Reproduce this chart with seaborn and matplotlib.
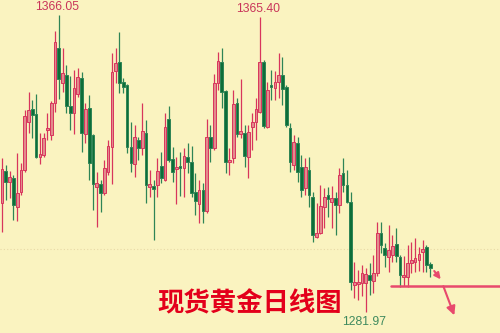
import numpy as np
import pandas as pd
import matplotlib
matplotlib.use("Agg")
import matplotlib.pyplot as plt
import seaborn as sns

# ---- data (daily OHLC of spot gold) ----
opens = [1312.8, 1321.9, 1318.8, 1319.9, 1311.7, 1316.0, 1322.2, 1335.8, 1339.5, 1338.0,
         1325.9, 1326.4, 1333.5, 1332.1, 1341.2, 1356.7, 1346.8, 1349.1, 1340.3, 1338.3,
         1343.7, 1348.2, 1332.4, 1339.7, 1332.1, 1317.4, 1318.2, 1315.7, 1321.6, 1328.7,
         1350.2, 1352.8, 1347.1, 1346.2, 1328.7, 1323.9, 1330.7, 1328.4, 1332.7, 1317.4,
         1317.7, 1317.9, 1323.3, 1319.4, 1336.6, 1325.3, 1322.5, 1323.0, 1322.8, 1325.9,
         1324.5, 1316.0, 1312.6, 1316.5, 1310.6, 1331.5, 1328.4, 1346.8, 1352.8, 1344.5,
         1324.5, 1325.6, 1341.2, 1332.4, 1332.7, 1325.9, 1334.4, 1335.8, 1338.6, 1352.8,
         1334.4, 1346.2, 1345.4, 1347.1, 1349.1, 1345.7, 1334.1, 1323.6, 1329.8, 1323.0,
         1317.1, 1322.2, 1314.5, 1303.2, 1304.4, 1311.7, 1315.1, 1313.1, 1314.3, 1312.3,
         1321.3, 1317.9, 1313.1, 1289.6, 1289.9, 1290.2, 1290.2, 1292.5, 1290.8, 1293.0,
         1304.4, 1300.1, 1297.6, 1298.1, 1301.2, 1297.6, 1291.9, 1291.9, 1295.9, 1296.2,
         1296.7, 1299.0, 1300.4, 1295.6]
highs = [1325.6, 1323.6, 1321.9, 1320.8, 1327.0, 1324.2, 1339.2, 1344.3, 1342.0, 1343.7,
         1332.7, 1332.7, 1338.3, 1341.7, 1361.5, 1366.05, 1356.7, 1351.9, 1348.8, 1350.5,
         1351.1, 1349.9, 1341.2, 1343.4, 1332.4, 1321.6, 1319.4, 1325.0, 1330.7, 1355.3,
         1356.7, 1361.2, 1348.2, 1346.5, 1335.8, 1334.9, 1331.5, 1341.2, 1336.3, 1322.2,
         1319.4, 1325.6, 1327.3, 1338.3, 1340.3, 1328.7, 1325.9, 1327.3, 1328.4, 1329.8,
         1329.0, 1321.3, 1319.4, 1318.5, 1336.6, 1334.9, 1349.4, 1355.6, 1356.7, 1344.8,
         1328.4, 1344.8, 1342.6, 1347.9, 1334.9, 1334.9, 1338.3, 1342.6, 1365.40, 1353.3,
         1347.1, 1350.5, 1350.2, 1355.3, 1354.2, 1346.2, 1335.5, 1332.1, 1331.5, 1326.4,
         1325.6, 1325.9, 1316.0, 1312.8, 1317.9, 1317.1, 1317.4, 1317.7, 1316.0, 1322.8,
         1325.6, 1322.2, 1316.0, 1296.2, 1293.9, 1295.3, 1294.5, 1295.9, 1298.1, 1307.5,
         1307.5, 1301.5, 1306.6, 1303.8, 1305.8, 1298.1, 1297.9, 1301.0, 1301.8, 1302.9,
         1300.4, 1302.4, 1301.0, 1296.2]
lows = [1304.6, 1313.7, 1314.3, 1308.0, 1307.8, 1315.1, 1321.6, 1332.7, 1331.2, 1325.6,
        1323.9, 1325.9, 1330.7, 1330.7, 1338.6, 1342.3, 1344.3, 1338.3, 1333.5, 1332.4,
        1342.8, 1327.3, 1329.8, 1319.4, 1310.9, 1306.1, 1310.3, 1315.1, 1320.8, 1318.2,
        1346.8, 1344.0, 1344.0, 1327.0, 1321.6, 1320.2, 1325.0, 1326.4, 1312.8, 1314.5,
        1302.4, 1314.5, 1318.5, 1319.1, 1324.5, 1318.8, 1312.6, 1314.8, 1314.5, 1321.3,
        1314.5, 1309.5, 1307.2, 1307.2, 1310.0, 1324.5, 1327.8, 1344.8, 1339.7, 1321.3,
        1320.8, 1324.2, 1331.5, 1331.2, 1323.0, 1319.9, 1327.8, 1330.7, 1338.3, 1334.1,
        1334.1, 1342.0, 1342.0, 1342.6, 1340.6, 1334.4, 1321.6, 1322.2, 1318.8, 1314.5,
        1315.1, 1311.7, 1301.8, 1302.9, 1304.1, 1305.8, 1308.9, 1305.8, 1303.8, 1310.0,
        1316.0, 1312.8, 1288.2, 1286.0, 1285.4, 1286.5, 1281.97, 1286.8, 1287.4, 1292.2,
        1298.7, 1294.7, 1293.3, 1296.2, 1296.2, 1289.1, 1289.4, 1289.1, 1293.0, 1293.3,
        1293.6, 1293.3, 1293.3, 1291.9]
closes = [1322.5, 1318.8, 1320.2, 1312.3, 1315.7, 1322.2, 1337.5, 1339.2, 1337.8, 1325.9,
          1326.7, 1331.2, 1334.1, 1341.2, 1358.4, 1347.9, 1349.6, 1340.3, 1338.3, 1345.4,
          1348.5, 1332.7, 1339.5, 1324.2, 1318.2, 1318.5, 1315.7, 1322.8, 1329.0, 1349.9,
          1352.5, 1346.8, 1345.7, 1328.7, 1324.2, 1331.5, 1328.4, 1333.2, 1317.9, 1318.2,
          1316.8, 1321.9, 1319.9, 1334.4, 1325.0, 1321.6, 1323.0, 1322.8, 1326.2, 1324.5,
          1315.7, 1313.4, 1316.5, 1310.6, 1331.5, 1328.4, 1346.8, 1353.0, 1344.3, 1324.5,
          1325.0, 1340.9, 1332.4, 1333.2, 1326.2, 1332.9, 1335.8, 1339.5, 1352.8, 1334.6,
          1344.8, 1345.7, 1347.1, 1349.1, 1345.1, 1334.9, 1324.5, 1330.1, 1321.6, 1316.5,
          1323.0, 1315.1, 1303.8, 1304.4, 1312.0, 1314.5, 1314.0, 1314.3, 1312.3, 1320.8,
          1317.9, 1313.1, 1290.5, 1290.5, 1290.5, 1293.0, 1292.8, 1291.1, 1293.0, 1304.4,
          1301.0, 1298.1, 1299.5, 1300.7, 1297.9, 1292.5, 1292.5, 1295.9, 1296.7, 1297.3,
          1298.4, 1299.8, 1295.3, 1294.5]

high_label = "1366.05"
high2_label = "1365.40"
low_label = "1281.97"
title_text = "现货黄金日线图"
support_level = 1289.4
support_start = 102.6
ref_level = 1299.8

df = pd.DataFrame({"open": opens, "high": highs, "low": lows, "close": closes})
df["idx"] = np.arange(len(df))
df["up"] = df["close"] >= df["open"]

# ---- style ----
sns.set_style("white")
plt.rcParams["font.family"] = ["Noto Sans CJK SC", "DejaVu Sans"]
BG = "#FAF3C0"
UP_FILL = "#E38B8C"
UP_EDGE = "#D8355C"
DN_FILL = "#0D6E38"
DN_EDGE = "#2E8456"
LINE_RED = "#E8496D"

fig = plt.figure(figsize=(5.0, 3.33), dpi=100, facecolor=BG)
ax = fig.add_axes([0, 0, 1, 1])
ax.set_facecolor(BG)

# reference dotted line
ax.axhline(ref_level, color="#E8D9A6", lw=0.8, ls=(0, (1, 2)), zorder=1)

# wicks
wick_cols = np.where(df["up"], UP_EDGE, DN_EDGE)
ax.vlines(df["idx"], df["low"], df["high"], colors=wick_cols, lw=0.9, zorder=2)

# bodies
bottoms = np.minimum(df["open"], df["close"])
heights = np.maximum(np.abs(df["close"] - df["open"]), 0.55)
face = np.where(df["up"], UP_FILL, DN_FILL)
edge = np.where(df["up"], UP_EDGE, DN_EDGE)
ax.bar(df["idx"], heights, bottom=bottoms, width=0.72, color=face,
       edgecolor=edge, linewidth=0.7, zorder=3)

# support line (seaborn)
sup = pd.DataFrame({"x": [support_start, 140], "y": [support_level, support_level]})
sns.lineplot(data=sup, x="x", y="y", color=LINE_RED, lw=1.8, ax=ax, zorder=4)

# arrows
ax.annotate("", xy=(116.2, 1290.6), xytext=(113.6, 1294.2),
            arrowprops=dict(arrowstyle="-|>", color=LINE_RED, lw=1.5,
                            mutation_scale=9), zorder=5)
ax.annotate("", xy=(119.6, 1280.3), xytext=(116.2, 1290.0),
            arrowprops=dict(arrowstyle="-|>", color=LINE_RED, lw=1.5,
                            mutation_scale=13), zorder=5)

ax.set_xlim(-0.53, 131.4)
ax.set_ylim(1276.03, 1370.30)
ax.set_xticks([])
ax.set_yticks([])
ax.set_xlabel("")
ax.set_ylabel("")
for s in ax.spines.values():
    s.set_visible(False)

# labels
lab_font = ["Liberation Sans", "DejaVu Sans"]
ax.text(57.5 / 500, 1 - 7.5 / 333, high_label, transform=ax.transAxes, ha="center",
        va="center", fontsize=8.7, color="#C9355A", family=lab_font)
ax.text(258 / 500, 1 - 9.5 / 333, high2_label, transform=ax.transAxes, ha="center",
        va="center", fontsize=8.7, color="#C9355A", family=lab_font)
ax.text(364 / 500, 1 - 322 / 333, low_label, transform=ax.transAxes, ha="center",
        va="center", fontsize=8.7, color="#3F8A5E", family=lab_font)

ax.text(250 / 500, 1 - 304 / 333, title_text, transform=ax.transAxes, ha="center",
        va="center", fontsize=19, color="#E3001B", fontweight="bold",
        family=["Noto Sans CJK SC", "DejaVu Sans"])

fig.savefig("out.png", dpi=100, facecolor=BG)
